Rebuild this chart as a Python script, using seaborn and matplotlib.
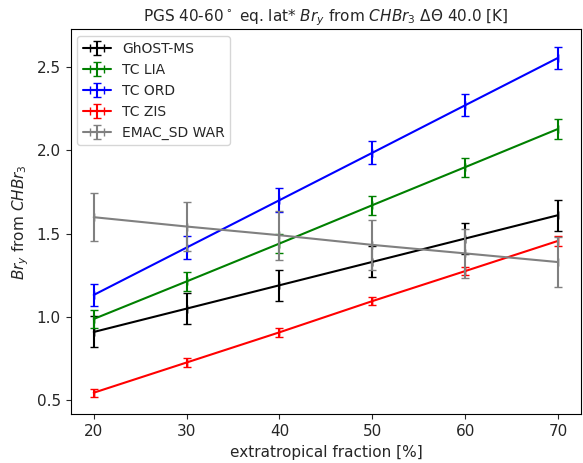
import numpy as np
import pandas as pd
import matplotlib
matplotlib.use("Agg")
import matplotlib.pyplot as plt
from matplotlib.container import ErrorbarContainer
import seaborn as sns

x_vals = [20, 30, 40, 50, 60, 70]
series_names = ["GhOST-MS", "TC LIA", "TC ORD", "TC ZIS", "EMAC_SD WAR"]
ghost_ms = [0.91, 1.05, 1.19, 1.33, 1.47, 1.61]
ghost_ms_err = [0.093, 0.094, 0.094, 0.093, 0.093, 0.093]
tc_lia = [0.988, 1.213, 1.44, 1.67, 1.898, 2.127]
tc_lia_err = [0.056, 0.057, 0.058, 0.057, 0.057, 0.058]
tc_ord = [1.132, 1.416, 1.70, 1.984, 2.269, 2.553]
tc_ord_err = [0.068, 0.07, 0.07, 0.068, 0.066, 0.067]
tc_zis = [0.546, 0.727, 0.908, 1.095, 1.275, 1.456]
tc_zis_err = [0.025, 0.028, 0.028, 0.022, 0.025, 0.028]
emac_war = [1.598, 1.542, 1.49, 1.432, 1.381, 1.329]
emac_war_err = [0.145, 0.145, 0.147, 0.148, 0.148, 0.148]
colors = ["black", "green", "blue", "red", "grey"]

values = [ghost_ms, tc_lia, tc_ord, tc_zis, emac_war]
errors = [ghost_ms_err, tc_lia_err, tc_ord_err, tc_zis_err, emac_war_err]

sns.set_style("ticks")
plt.rcParams['font.family'] = ['DejaVu Sans']

fig = plt.figure(figsize=(5.83, 4.63), dpi=100)
ax = fig.add_axes([0.121, 0.105, 0.876, 0.832])

handles = []
for name, v, e, c in zip(series_names, values, errors, colors):
    df = pd.DataFrame({"x": x_vals, "y": v})
    sns.lineplot(data=df, x="x", y="y", color=c, ax=ax, legend=False, linewidth=1.5)
    line = ax.lines[-1]
    eb = ax.errorbar(x_vals, v, yerr=e, xerr=0, color=c, capsize=3,
                     elinewidth=1.5, fmt='none')
    _, caplines, barcols = eb.lines
    handles.append(ErrorbarContainer((line, caplines, barcols),
                                     has_xerr=True, has_yerr=True,
                                     label=name))

for s in ax.spines.values():
    s.set_visible(True)
    s.set_color("black")
    s.set_linewidth(0.8)

ax.set_xticks([20, 30, 40, 50, 60, 70])
ax.set_yticks([0.5, 1.0, 1.5, 2.0, 2.5])
ax.tick_params(labelsize=11)
ax.set_xlabel("extratropical fraction [%]", fontsize=11)
ax.set_ylabel(r"$Br_y$ from $CHBr_3$", fontsize=11)
ax.set_title(r"PGS 40-60$^\circ$ eq. lat* $Br_y$ from $CHBr_3$ $\Delta\Theta$ 40.0 [K]", fontsize=11)

ax.legend(handles=handles, labels=series_names, loc="upper left", fontsize=10, frameon=True)

fig.savefig("out.png", dpi=100)
